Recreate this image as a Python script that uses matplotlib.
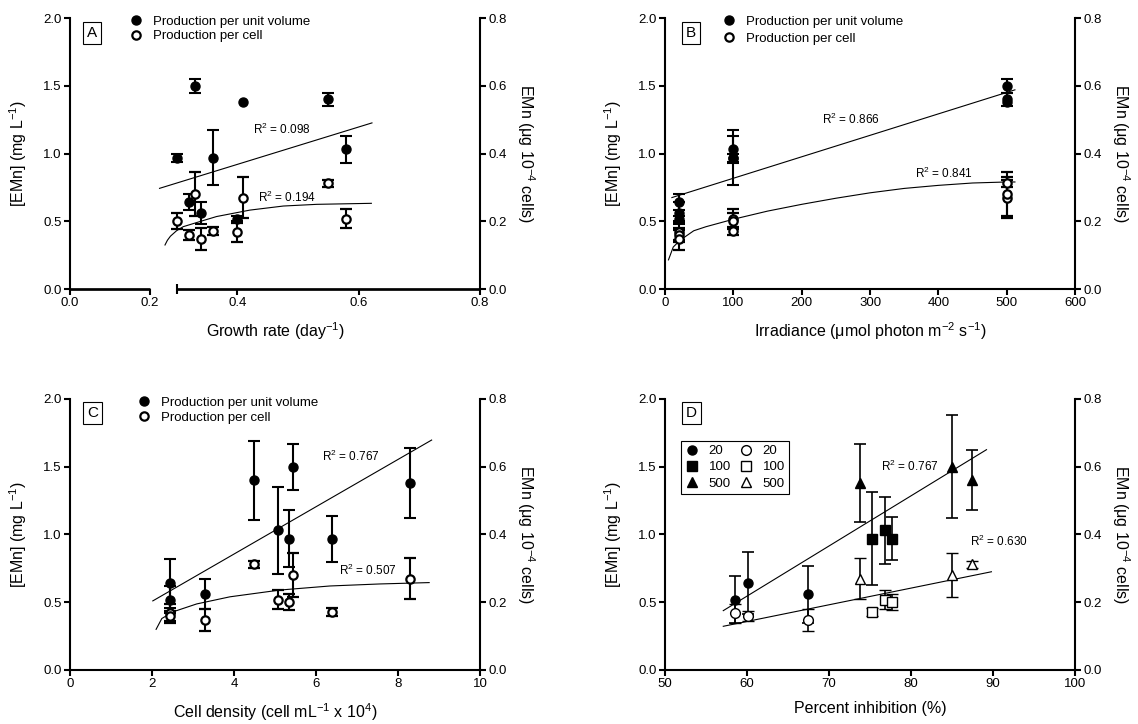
import numpy as np
import matplotlib.pyplot as plt
from matplotlib.lines import Line2D
from matplotlib.ticker import FormatStrFormatter

plt.rcParams['font.family'] = ['Liberation Sans', 'DejaVu Sans']
plt.rcParams['mathtext.fontset'] = 'custom'
plt.rcParams['mathtext.rm'] = 'Liberation Sans'
plt.rcParams['mathtext.default'] = 'regular'

# nine cultures, three at each irradiance (20, 100, 500)
irradiance = [20, 20, 20, 100, 100, 100, 500, 500, 500]
growth_rate = [0.40, 0.32, 0.34, 0.36, 0.58, 0.30, 0.41, 0.33, 0.55]
cell_density = [2.45, 2.45, 3.3, 6.4, 5.08, 5.33, 8.3, 5.45, 4.5]
inhibition = [58.5, 60.1, 67.4, 75.2, 76.8, 77.7, 73.8, 85.0, 87.4]

# EMn per unit volume (left axis) and per cell (right axis)
emn_volume = [0.52, 0.64, 0.56, 0.97, 1.03, 0.97, 1.38, 1.50, 1.40]
emn_cell = [0.168, 0.160, 0.148, 0.172, 0.208, 0.200, 0.270, 0.280, 0.312]
sd_cell = [0.028, 0.014, 0.032, 0.012, 0.028, 0.024, 0.060, 0.064, 0.010]
sd_volume_ab = [0.02, 0.06, 0.08, 0.20, 0.10, 0.03, np.nan, 0.05, 0.05]
sd_volume_c = [0.10, 0.18, 0.11, 0.17, 0.32, 0.21, 0.26, 0.17, 0.29]
sd_volume_d = [0.17, 0.23, 0.21, 0.34, 0.25, 0.16, 0.29, 0.38, 0.22]

# trend lines
fitA_vol_x = [0.272, 0.622]
fitA_vol_y = [0.743, 1.226]
fitA_cell_x = [0.281, 0.285, 0.29, 0.30, 0.311, 0.34, 0.366, 0.421, 0.476, 0.531, 0.621]
fitA_cell_y = [0.130, 0.144, 0.156, 0.172, 0.184, 0.200, 0.214, 0.233, 0.245, 0.250, 0.253]
fitB_vol_x = [10, 512]
fitB_vol_y = [0.675, 1.47]
fitB_cell_x = [5, 12, 22, 42, 60, 100, 150, 200, 250, 300, 350, 400, 450, 500, 512]
fitB_cell_y = [0.086, 0.124, 0.144, 0.172, 0.184, 0.206, 0.230, 0.250, 0.268, 0.284,
               0.297, 0.306, 0.313, 0.316, 0.316]
fitC_vol_x = [2.02, 8.82]
fitC_vol_y = [0.51, 1.697]
fitC_cell_x = [2.10, 2.24, 2.52, 3.09, 3.90, 5.12, 6.34, 7.56, 8.76]
fitC_cell_y = [0.120, 0.152, 0.172, 0.195, 0.216, 0.236, 0.248, 0.254, 0.258]
fitD_vol_x = [57.1, 89.2]
fitD_vol_y = [0.438, 1.626]
fitD_cell_x = [57.1, 89.8]
fitD_cell_y = [0.129, 0.290]

r2_text = {'A': ['R$^2$ = 0.098', 'R$^2$ = 0.194'], 'B': ['R$^2$ = 0.866', 'R$^2$ = 0.841'],
           'C': ['R$^2$ = 0.767', 'R$^2$ = 0.507'], 'D': ['R$^2$ = 0.767', 'R$^2$ = 0.630']}
r2_pos = {'A': [(0.474, 1.176), (0.482, 0.678)], 'B': [(272, 1.25), (408, 0.85)],
          'C': [(6.86, 1.573), (7.27, 0.737)], 'D': [(79.8, 1.50), (90.7, 0.951)]}

fig = plt.figure(figsize=(11.38, 7.24), dpi=100)
boxes = {'A': [0.0615, 0.6008, 0.3603, 0.3743], 'B': [0.5844, 0.6008, 0.3603, 0.3743],
         'C': [0.0615, 0.0746, 0.3603, 0.3743], 'D': [0.5844, 0.0746, 0.3603, 0.3743]}

LW = 1.5


def make_panel(key, xlim, xticks, xfmt, xlabel):
    ax = fig.add_axes(boxes[key])
    ax2 = ax.twinx()
    ax.set_ylim(0, 2.0)
    ax.set_yticks(np.arange(0, 2.01, 0.5))
    ax2.set_ylim(0, 0.8)
    ax2.set_yticks(np.arange(0, 0.81, 0.2))
    ax.yaxis.set_major_formatter(FormatStrFormatter('%.1f'))
    ax2.yaxis.set_major_formatter(FormatStrFormatter('%.1f'))
    ax.set_xlim(xlim)
    ax.set_xticks(xticks)
    ax.xaxis.set_major_formatter(FormatStrFormatter(xfmt))
    for a in (ax, ax2):
        a.spines['top'].set_visible(False)
        for s in a.spines.values():
            s.set_linewidth(LW)
        a.tick_params(direction='out', length=4, width=LW, labelsize=9.5, pad=2)
    ax.spines['right'].set_visible(False)
    ax2.spines['left'].set_visible(False)
    ax2.spines['bottom'].set_visible(False)
    ax.set_ylabel('[EMn] (mg L$^{-1}$)', fontsize=11.5, labelpad=10)
    ax2.set_ylabel('EMn (\u03bcg 10$^{-4}$ cells)', fontsize=11.5, rotation=270,
                   va='bottom', labelpad=6)
    ax.set_xlabel(xlabel, fontsize=11.5, labelpad=8)
    return ax, ax2


def panel_letter(ax, letter, cx, cy):
    ax.text(cx, cy, letter, transform=ax.transAxes, ha='center', va='center', fontsize=11,
            bbox=dict(boxstyle='square,pad=0.25', fc='white', ec='k', lw=0.8), zorder=10)


def pair_legend(ax2, anchor, spacing):
    h = [Line2D([], [], ls='none', marker='o', ms=6.5, mfc='k', mec='k'),
         Line2D([], [], ls='none', marker='o', ms=6, mfc='white', mec='k', mew=1.6)]
    ax2.legend(h, ['Production per unit volume', 'Production per cell'], loc='upper left',
               bbox_to_anchor=anchor, frameon=False, fontsize=9.5, handlelength=1.0,
               handletextpad=0.8, labelspacing=spacing, borderpad=0, borderaxespad=0)


def draw_pairs(ax, ax2, x, sd_vol):
    ax.errorbar(x, emn_volume, yerr=sd_vol, fmt='o', ms=6.5, color='k', ecolor='k',
                elinewidth=LW, capsize=4, capthick=LW, clip_on=False)
    ax2.errorbar(x, emn_cell, yerr=sd_cell, fmt='o', ms=6, mfc='white', mec='k', mew=1.6,
                 ecolor='k', elinewidth=LW, capsize=4, capthick=LW, clip_on=False)


def draw_fits(key, ax, ax2, vx, vy, cx, cy):
    ax.plot(vx, vy, color='k', lw=0.8, clip_on=False)
    ax2.plot(cx, cy, color='k', lw=0.8, clip_on=False)
    for txt, (px, py) in zip(r2_text[key], r2_pos[key]):
        ax.text(px, py, txt, ha='center', va='center', fontsize=8.5)


# A: growth rate, with a broken x axis
axA, axA2 = make_panel('A', (0, 0.8), [0, 0.2, 0.4, 0.6, 0.8], '%.1f', 'Growth rate (day$^{-1}$)')
gr_knots = [0.0, 0.2, 0.2562, 0.8]
gr_pos = [0.0, 0.1947, 0.1950, 1.0]
axA.set_xscale('function', functions=(lambda v: np.interp(v, gr_knots, gr_pos),
                                      lambda t: np.interp(t, gr_pos, gr_knots)))
axA.set_xlim(0, 0.8)
axA.set_xticks([0, 0.2, 0.4, 0.6, 0.8])
axA.xaxis.set_major_formatter(FormatStrFormatter('%.1f'))
axA.set_xticks([0.3], minor=True)
axA.tick_params(axis='x', which='minor', direction='inout', length=7, width=LW)
axA.spines['bottom'].set_visible(False)
for seg in ([0, 0.2], [0.3, 0.8]):
    axA.plot(seg, [0, 0], transform=axA.get_xaxis_transform(), color='k', lw=LW * 1.3,
             clip_on=False, solid_capstyle='butt')
draw_fits('A', axA, axA2, fitA_vol_x, fitA_vol_y, fitA_cell_x, fitA_cell_y)
draw_pairs(axA, axA2, growth_rate, sd_volume_ab)
panel_letter(axA, 'A', 0.054, 0.945)
pair_legend(axA2, (0.144, 1.01), 0.2)

# B: irradiance
axB, axB2 = make_panel('B', (0, 600), np.arange(0, 601, 100), '%d',
                       'Irradiance (\u03bcmol photon m$^{-2}$ s$^{-1}$)')
draw_fits('B', axB, axB2, fitB_vol_x, fitB_vol_y, fitB_cell_x, fitB_cell_y)
draw_pairs(axB, axB2, irradiance, sd_volume_ab)
panel_letter(axB, 'B', 0.063, 0.945)
pair_legend(axB2, (0.139, 1.01), 0.4)

# C: cell density
axC, axC2 = make_panel('C', (0, 10), np.arange(0, 11, 2), '%d',
                       'Cell density (cell mL$^{-1}$ x 10$^{4}$)')
draw_fits('C', axC, axC2, fitC_vol_x, fitC_vol_y, fitC_cell_x, fitC_cell_y)
draw_pairs(axC, axC2, cell_density, sd_volume_c)
panel_letter(axC, 'C', 0.055, 0.948)
pair_legend(axC2, (0.164, 1.008), 0.2)

# D: percent inhibition, symbols by irradiance
axD, axD2 = make_panel('D', (50, 100), np.arange(50, 101, 10), '%d', 'Percent inhibition (%)')
draw_fits('D', axD, axD2, fitD_vol_x, fitD_vol_y, fitD_cell_x, fitD_cell_y)
markers = ['o', 's', '^']
groups = [slice(0, 3), slice(3, 6), slice(6, 9)]
handles = []
for m, g in zip(markers, groups):
    axD.errorbar(inhibition[g], emn_volume[g], yerr=sd_volume_d[g], fmt=m, ms=6.5, color='k',
                 ecolor='k', elinewidth=1.2, capsize=4, capthick=1.2)
    handles.append(Line2D([], [], ls='none', marker=m, ms=6.5, mfc='k', mec='k'))
for m, g in zip(markers, groups):
    axD2.errorbar(inhibition[g], emn_cell[g], yerr=sd_cell[g], fmt=m, ms=7, mfc='white',
                  mec='k', mew=1.0, ecolor='k', elinewidth=1.2, capsize=4, capthick=1.2)
    handles.append(Line2D([], [], ls='none', marker=m, ms=7, mfc='white', mec='k', mew=1.0))
legD = axD2.legend(handles, ['20', '100', '500', '20', '100', '500'], ncol=2,
                   loc='upper left', bbox_to_anchor=(0.039, 0.845), borderaxespad=0,
                   fontsize=9.5, handlelength=1.0, handletextpad=0.8, columnspacing=0.6,
                   labelspacing=0.3, borderpad=0.3, fancybox=False, framealpha=1,
                   edgecolor='k')
legD.get_frame().set_linewidth(0.8)
panel_letter(axD, 'D', 0.064, 0.948)

plt.savefig('out.png', dpi=100)
